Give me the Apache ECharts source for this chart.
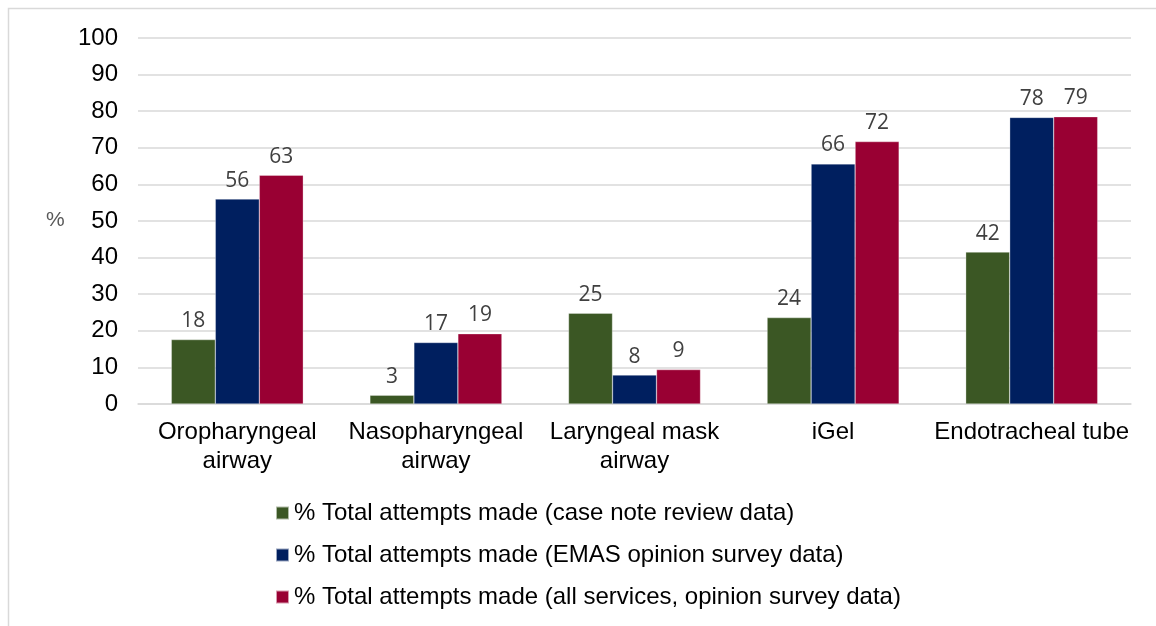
<!DOCTYPE html>
<html><head><meta charset="utf-8">
<script src="https://cdn.jsdelivr.net/npm/echarts@6/dist/echarts.min.js"></script>
<style>html,body{margin:0;padding:0;background:#fff}#c{width:1156px;height:626px}</style>
</head><body><div id="c"></div>
<script>
const categories = ['Oropharyngeal\nairway', 'Nasopharyngeal\nairway', 'Laryngeal mask\nairway', 'iGel', 'Endotracheal tube'];
const seriesNames = [
  '% Total attempts made (case note review data)',
  '% Total attempts made (EMAS opinion survey data)',
  '% Total attempts made (all services, opinion survey data)'
];
const caseNote = [17.6, 2.4, 24.8, 23.6, 41.5];
const emas = [56, 16.8, 7.9, 65.6, 78.3];
const allServices = [62.5, 19.2, 9.4, 71.7, 78.5];
const caseNoteLabels = [18, 3, 25, 24, 42];
const emasLabels = [56, 17, 8, 66, 78];
const allServicesLabels = [63, 19, 9, 72, 79];
const yTicks = [0, 10, 20, 30, 40, 50, 60, 70, 80, 90, 100];
const colors = ['#3b5724', '#001f5f', '#990033'];

const chart = echarts.init(document.getElementById('c'), null, {renderer: 'canvas'});
function mk(name, vals, labs, color) {
  return {
    name: name, type: 'bar', data: vals, barWidth: 44, barGap: '0%',
    itemStyle: {color: color, borderColor: 'rgba(255,255,255,0.6)', borderWidth: 0.5},
    label: {show: true, position: 'top', distance: 8, color: '#404040', fontSize: 21,
      fontFamily: 'Open Sans', formatter: p => String(labs[p.dataIndex])}
  };
}
chart.setOption({
  animation: false,
  backgroundColor: '#fff',
  graphic: [
    {type: 'rect', shape: {x: 8.5, y: 8.5, width: 1200, height: 700}, style: {fill: 'none', stroke: '#d9d9d9', lineWidth: 1.5}, silent: true},
    {type: 'text', left: 46, top: 210, style: {text: '%', fill: '#595959', fontSize: 21, fontFamily: 'Liberation Sans'}}
  ],
  grid: {left: 138, right: 25, top: 38, bottom: 222, containLabel: false},
  legend: {
    orient: 'vertical', left: 270, top: 496, itemWidth: 13, itemHeight: 13, itemGap: 18,
    icon: 'rect',
    textStyle: {fontSize: 24, fontFamily: 'Liberation Sans', color: '#000'},
    data: seriesNames
  },
  xAxis: {
    type: 'category', data: categories,
    axisLine: {lineStyle: {color: '#d9d9d9', width: 1.5}},
    axisTick: {show: false},
    axisLabel: {fontSize: 24, fontFamily: 'Liberation Sans', color: '#000', margin: 14, lineHeight: 29, interval: 0}
  },
  yAxis: {
    type: 'value', min: 0, max: 100, interval: 10,
    axisLine: {show: false}, axisTick: {show: false},
    splitLine: {lineStyle: {color: '#d9d9d9', width: 1.5}},
    axisLabel: {fontSize: 24, fontFamily: 'Liberation Sans', color: '#000', margin: 20,
      formatter: v => yTicks.includes(v) ? String(v) : ''}
  },
  series: [
    mk(seriesNames[0], caseNote, caseNoteLabels, colors[0]),
    mk(seriesNames[1], emas, emasLabels, colors[1]),
    mk(seriesNames[2], allServices, allServicesLabels, colors[2])
  ]
});
</script></body></html>
